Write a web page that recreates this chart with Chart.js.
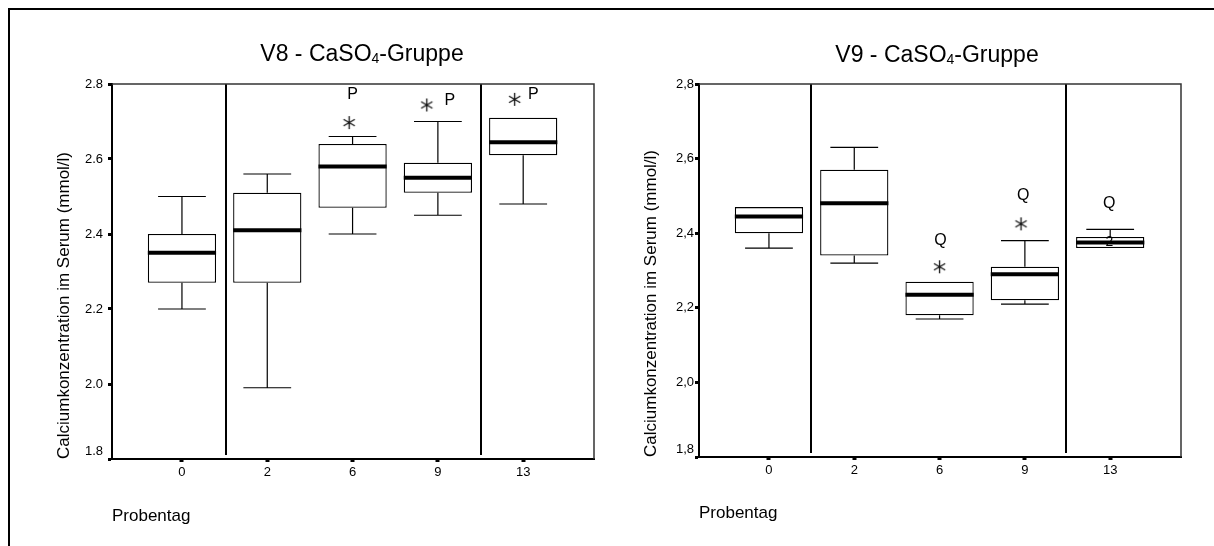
<!DOCTYPE html>
<html>
<head>
<meta charset="utf-8">
<script src="https://cdn.jsdelivr.net/npm/chart.js@4.4.1/dist/chart.umd.min.js"></script>
<style>
  body { margin: 0; background: #fff; }
  #page { position: relative; width: 1214px; height: 546px; overflow: hidden; }
  #frame { position: absolute; left: 8px; top: 8px; width: 1206px; height: 538px;
           border-top: 2px solid #000; border-left: 2px solid #000; box-sizing: border-box; }
  canvas { position: absolute; top: 0; }
  #v8 { left: 0; }
  #v9 { left: 607px; }
</style>
</head>
<body>
<div id="page">
  <div id="frame"></div>
  <canvas id="v8" width="607" height="546"></canvas>
  <canvas id="v9" width="607" height="546"></canvas>
</div>
<script>
// Probentage
var categories = ['0', '2', '6', '9', '13'];

// V8 - CaSO4-Gruppe
var v8Min    = [2.20, 1.99, 2.40, 2.45, 2.48];
var v8Q1     = [2.27, 2.27, 2.47, 2.51, 2.61];
var v8Median = [2.35, 2.41, 2.58, 2.55, 2.645];
var v8Q3     = [2.40, 2.51, 2.64, 2.59, 2.71];
var v8Max    = [2.50, 2.56, 2.66, 2.70, 2.71];
var v8ExtremeX = [1.96, 2.87, 3.90];
var v8ExtremeY = [2.697, 2.744, 2.759];
var v8MarkText = ['P', 'P', 'P'];
var v8MarkX    = [2.00, 3.14, 4.12];
var v8MarkY    = [2.771, 2.757, 2.773];
var v8Dividers = [0.52, 3.50];
var v8TickValues = [1.8, 2.0, 2.2, 2.4, 2.6, 2.8];
var v8TickLabels = ['1.8', '2.0', '2.2', '2.4', '2.6', '2.8'];

// V9 - CaSO4-Gruppe
var v9Min    = [2.36, 2.32, 2.17, 2.21, 2.36];
var v9Q1     = [2.40, 2.34, 2.18, 2.22, 2.36];
var v9Median = [2.445, 2.48, 2.235, 2.29, 2.375];
var v9Q3     = [2.47, 2.57, 2.27, 2.31, 2.39];
var v9Max    = [2.47, 2.63, 2.27, 2.38, 2.41];
var v9ExtremeX = [2.00, 2.955];
var v9ExtremeY = [2.31, 2.425];
var v9MarkText = ['Q', 'Q', 'Q', '2'];
var v9MarkX    = [2.01, 2.98, 3.99, 3.99];
var v9MarkY    = [2.38, 2.502, 2.48, 2.375];
var v9Dividers = [0.49, 3.48];
var v9TickValues = [1.8, 2.0, 2.2, 2.4, 2.6, 2.8];
var v9TickLabels = ['1,8', '2,0', '2,2', '2,4', '2,6', '2,8'];

var FONT = '"Liberation Sans", Arial, sans-serif';
Chart.defaults.font.family = FONT;
Chart.defaults.color = '#000';

// six-armed asterisk used for the extreme values
function makeStar() {
  var c = document.createElement('canvas');
  c.width = 15; c.height = 15;
  var g = c.getContext('2d');
  g.strokeStyle = '#111';
  g.lineWidth = 1.3;
  g.beginPath();
  for (var k = 0; k < 3; k++) {
    var a = Math.PI / 2 + k * Math.PI / 3;
    g.moveTo(7.5 + 6.5 * Math.cos(a), 7.5 + 6.5 * Math.sin(a));
    g.lineTo(7.5 - 6.5 * Math.cos(a), 7.5 - 6.5 * Math.sin(a));
  }
  g.stroke();
  return c;
}
var star = makeStar();

// whiskers, medians, group dividers, letters, frame and title
var boxExtras = {
  id: 'boxExtras',
  afterDatasetsDraw: function(chart, args, o) {
    var ctx = chart.ctx, xs = chart.scales.x, ys = chart.scales.y, ca = chart.chartArea;
    ctx.save();
    ctx.strokeStyle = '#000';
    for (var i = 0; i < o.median.length; i++) {
      var cx = xs.getPixelForValue(i);
      var capL = xs.getPixelForValue(i - 0.28), capR = xs.getPixelForValue(i + 0.28);
      var boxL = xs.getPixelForValue(i - 0.4), boxR = xs.getPixelForValue(i + 0.4);
      var pMax = ys.getPixelForValue(o.max[i]), pMin = ys.getPixelForValue(o.min[i]);
      ctx.lineWidth = 1.2;
      ctx.beginPath();
      if (o.max[i] > o.q3[i]) {
        ctx.moveTo(cx, ys.getPixelForValue(o.q3[i])); ctx.lineTo(cx, pMax);
        ctx.moveTo(capL, pMax); ctx.lineTo(capR, pMax);
      }
      if (o.min[i] < o.q1[i]) {
        ctx.moveTo(cx, ys.getPixelForValue(o.q1[i])); ctx.lineTo(cx, pMin);
        ctx.moveTo(capL, pMin); ctx.lineTo(capR, pMin);
      }
      ctx.stroke();
      var pMed = ys.getPixelForValue(o.median[i]);
      ctx.lineWidth = 4;
      ctx.beginPath();
      ctx.moveTo(boxL, pMed); ctx.lineTo(boxR, pMed);
      ctx.stroke();
    }
    // group dividers
    ctx.lineWidth = 2;
    ctx.beginPath();
    o.dividers.forEach(function(d) {
      var px = Math.round(xs.getPixelForValue(d));
      ctx.moveTo(px, ca.top); ctx.lineTo(px, ca.bottom - 4);
    });
    ctx.stroke();
    // frame top and right
    ctx.lineWidth = 1.5;
    ctx.strokeStyle = '#333';
    ctx.beginPath();
    ctx.moveTo(ca.left, ca.top); ctx.lineTo(ca.right, ca.top); ctx.lineTo(ca.right, ca.bottom);
    ctx.stroke();
    // letters
    ctx.fillStyle = '#000';
    ctx.textAlign = 'center';
    ctx.textBaseline = 'middle';
    o.markText.forEach(function(t, j) {
      ctx.font = (t === '2' ? '14px ' : '16px ') + FONT;
      ctx.fillText(t, xs.getPixelForValue(o.markX[j]), ys.getPixelForValue(o.markY[j]));
    });
    // title with subscript
    var big = '23px ' + FONT, small = '14px ' + FONT;
    var p = o.title;
    ctx.font = big;
    var w0 = ctx.measureText(p[0]).width, w2 = ctx.measureText(p[2]).width;
    ctx.font = small;
    var w1 = ctx.measureText(p[1]).width;
    var x = (ca.left + ca.right) / 2 + o.titleDx - (w0 + w1 + w2) / 2;
    ctx.textAlign = 'left';
    ctx.textBaseline = 'alphabetic';
    ctx.font = big;   ctx.fillText(p[0], x, o.titleY);
    ctx.font = small; ctx.fillText(p[1], x + w0, o.titleY + 2);
    ctx.font = big;   ctx.fillText(p[2], x + w0 + w1, o.titleY);
    ctx.restore();
  }
};

function makeChart(id, d) {
  var boxes = categories.map(function(c, i) { return {x: i, y: [d.q1[i], d.q3[i]]}; });
  var extremes = d.exX.map(function(x, i) { return {x: x, y: d.exY[i]}; });
  return new Chart(document.getElementById(id), {
    type: 'bar',
    data: {
      datasets: [{
        type: 'bar',
        data: boxes,
        backgroundColor: '#fff',
        borderColor: '#000',
        borderWidth: 1.3,
        borderSkipped: false,
        categoryPercentage: 1,
        barPercentage: 0.8
      }, {
        type: 'scatter',
        data: extremes,
        pointStyle: star,
        pointRadius: 7
      }]
    },
    options: {
      responsive: false,
      animation: false,
      layout: { padding: { left: 0, top: 84, right: d.padRight, bottom: 0 } },
      plugins: {
        legend: { display: false },
        tooltip: { enabled: false },
        boxExtras: {
          min: d.min, q1: d.q1, median: d.median, q3: d.q3, max: d.max,
          dividers: d.dividers, markText: d.markText, markX: d.markX, markY: d.markY,
          title: d.title, titleDx: d.titleDx, titleY: d.titleY
        }
      },
      scales: {
        x: {
          type: 'linear',
          min: -0.82, max: 4.83,
          offset: false,
          afterBuildTicks: function(s) { s.ticks = categories.map(function(c, i) { return {value: i}; }); },
          afterFit: function(s) { s.height = d.xHeight; },
          ticks: {
            padding: 3,
            font: { size: 13 },
            callback: function(v) { return categories[v]; }
          },
          grid: { display: true, offset: false, drawOnChartArea: false, drawTicks: true,
                  tickLength: 3, tickWidth: 4, tickColor: '#000' },
          border: { display: true, color: '#000', width: 2 },
          title: { display: true, text: 'Probentag', align: 'start',
                   font: { size: 17 }, padding: { top: 0, bottom: d.xTitlePad } }
        },
        y: {
          min: 1.8, max: 2.8,
          afterBuildTicks: function(s) { s.ticks = d.tickValues.map(function(v) { return {value: v}; }); },
          afterFit: function(s) { s.width = d.yWidth; },
          ticks: {
            padding: d.yTickPad,
            font: { size: 13 },
            callback: function(v, i) { return i === 0 ? [d.tickLabels[i], ''] : d.tickLabels[i]; }
          },
          grid: { display: true, drawOnChartArea: false, drawTicks: true,
                  tickLength: 4, tickWidth: 3, tickColor: '#000' },
          border: { display: true, color: '#000', width: 2 },
          title: { display: true, text: 'Calciumkonzentration im Serum (mmol/l)', align: 'start',
                   font: { size: 17 }, padding: { top: d.yTitlePad, bottom: 0 } }
        }
      }
    },
    plugins: [boxExtras]
  });
}

makeChart('v8', {
  min: v8Min, q1: v8Q1, median: v8Median, q3: v8Q3, max: v8Max,
  exX: v8ExtremeX, exY: v8ExtremeY,
  markText: v8MarkText, markX: v8MarkX, markY: v8MarkY,
  dividers: v8Dividers, tickValues: v8TickValues, tickLabels: v8TickLabels,
  title: ['V8 - CaSO', '4', '-Gruppe'], titleDx: 9, titleY: 60.5,
  padRight: 13, xHeight: 87, yWidth: 112, yTickPad: 5, yTitlePad: 54.6, xTitlePad: 19.8
});

makeChart('v9', {
  min: v9Min, q1: v9Q1, median: v9Median, q3: v9Q3, max: v9Max,
  exX: v9ExtremeX, exY: v9ExtremeY,
  markText: v9MarkText, markX: v9MarkX, markY: v9MarkY,
  dividers: v9Dividers, tickValues: v9TickValues, tickLabels: v9TickLabels,
  title: ['V9 - CaSO', '4', '-Gruppe'], titleDx: -3, titleY: 62,
  padRight: 33, xHeight: 89, yWidth: 92, yTickPad: 1, yTitlePad: 33.8, xTitlePad: 22.5
});
</script>
</body>
</html>
